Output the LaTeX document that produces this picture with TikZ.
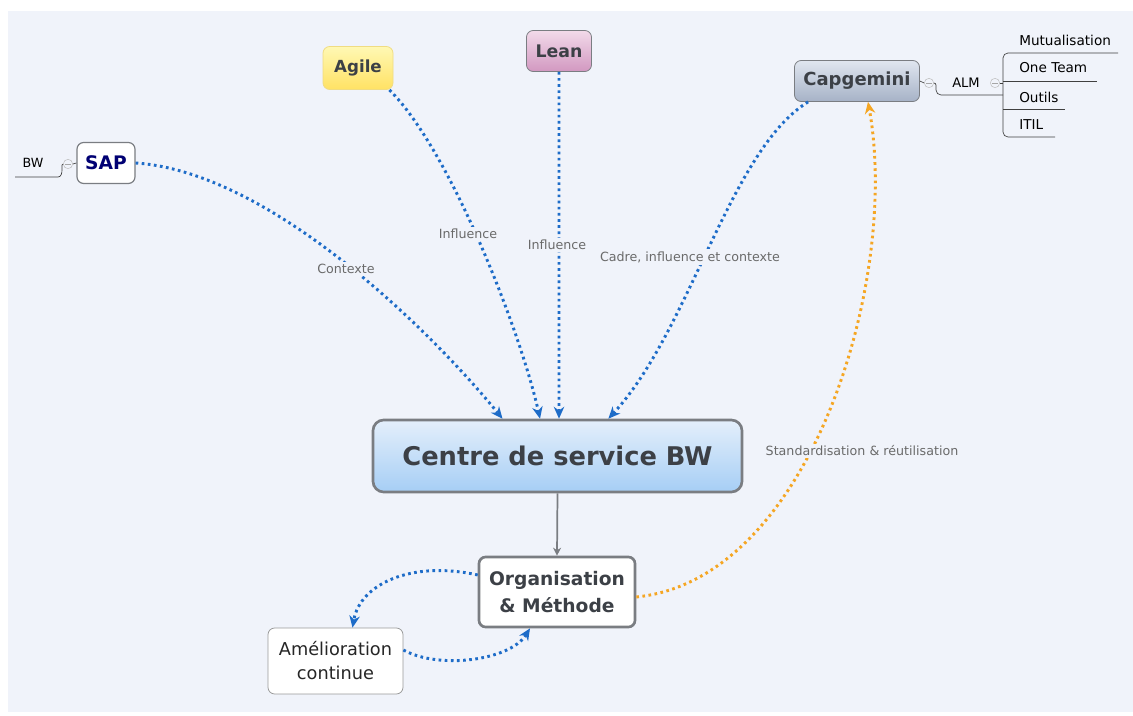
\documentclass[tikz,border=0pt]{standalone}
\usepackage{fontspec}
\setmainfont{DejaVu Sans}
\usetikzlibrary{arrows.meta,calc,shapes.geometric}
\definecolor{bgc}{HTML}{F0F3FA}
\definecolor{bluel}{HTML}{1E6CC8}
\definecolor{orl}{HTML}{F5A623}
\definecolor{bordg}{HTML}{7A7D82}
\definecolor{txtd}{HTML}{3C4046}
\definecolor{lblg}{HTML}{6A6A6A}
\tikzset{
  topic/.style={draw=bordg, line width=0.9pt, rounded corners=5pt, inner sep=0pt, font=\bfseries, text=txtd, align=center},
  lbl/.style={font=\fontsize{9.5}{11}\selectfont, text=lblg, inner sep=1.5pt},
  sub/.style={font=\fontsize{10.2}{12}\selectfont, text=black, anchor=west, inner sep=0pt},
  blink/.style={draw=bluel, line width=2.2pt, dash pattern=on 2pt off 2.6pt, -{Stealth[length=9pt,width=8pt,line width=0pt]}},
  olink/.style={draw=orl, line width=2.2pt, dash pattern=on 2pt off 2.6pt, -{Stealth[length=9pt,width=8pt,line width=0pt]}},
  tline/.style={draw=black!75, line width=0.5pt},
  coll/.style={circle, draw=black!25, fill=bgc, minimum size=7pt, inner sep=0pt},
}
\begin{document}
\begin{tikzpicture}[x=0.75pt,y=-0.75pt]
\useasboundingbox (0,0) rectangle (1133,716);
\fill[white] (0,0) rectangle (1133,716);
\fill[bgc] (8,11) rectangle (1133,712);

% nodes
\node[topic, fill=white, text=blue!45!black, minimum width=58*0.75pt, minimum height=41*0.75pt, font=\bfseries\fontsize{14}{16}\selectfont] (sap) at (106,163) {SAP};
\node[topic, top color={rgb,255:red,255;green,248;blue,180}, bottom color={rgb,255:red,255;green,226;blue,100}, draw={rgb,255:red,240;green,220;blue,130}, line width=0.6pt, minimum width=70*0.75pt, minimum height=43*0.75pt, font=\bfseries\fontsize{12.5}{15}\selectfont] (agile) at (358,68) {Agile};
\node[topic, top color={rgb,255:red,242;green,218;blue,234}, bottom color={rgb,255:red,210;green,152;blue,192}, line width=0.6pt, minimum width=65*0.75pt, minimum height=41*0.75pt, font=\bfseries\fontsize{13}{15}\selectfont] (lean) at (559,51) {Lean};
\node[topic, top color={rgb,255:red,224;green,230;blue,240}, bottom color={rgb,255:red,166;green,178;blue,198}, line width=0.6pt, minimum width=125*0.75pt, minimum height=41*0.75pt, font=\bfseries\fontsize{13.5}{15}\selectfont] (capg) at (857,81) {Capgemini};
\node[topic, top color={rgb,255:red,228;green,239;blue,251}, bottom color={rgb,255:red,166;green,206;blue,245}, line width=2pt, rounded corners=8pt, minimum width=369*0.75pt, minimum height=72*0.75pt, font=\bfseries\fontsize{19.3}{22}\selectfont] (centre) at (557.5,456) {Centre de service BW};
\node[topic, fill=white, line width=2pt, minimum width=156*0.75pt, minimum height=70*0.75pt, font=\bfseries\fontsize{14}{20}\selectfont] (org) at (557,592) {Organisation\\\& Méthode};
\node[topic, fill=white, draw=black!40, line width=0.6pt, minimum width=135*0.75pt, minimum height=66*0.75pt, font=\fontsize{13.3}{18}\selectfont, text=black!85] (amel) at (335.5,661) {Amélioration\\continue};

% BW branch
\node[font=\fontsize{9.5}{11}\selectfont, inner sep=0pt] (bw) at (33,163) {BW};
\node[coll] (c1) at (68,164) {};
\draw[black!35, line width=0.5pt] ($(c1.center)+(-3,0)$) -- ($(c1.center)+(3,0)$);
\draw[tline] (15,177) -- (58,177) to[out=0,in=270] (62,170) -- (62,167) to[out=90,in=180] (c1.west);
\draw[tline] (c1.east) -- (sap.west);

% ALM branch
\node[coll] (c2) at (929,83) {};
\draw[black!35, line width=0.5pt] ($(c2.center)+(-3,0)$) -- ($(c2.center)+(3,0)$);
\draw[tline] (capg.east) -- (c2.west);
\node[font=\fontsize{9.8}{11}\selectfont, inner sep=0pt] (alm) at (966,83) {ALM};
\draw[tline] (c2.east) to[out=0,in=90] (936,90) to[out=270,in=180] (941,95) -- (1003,95);
\node[coll] (c3) at (995,83) {};
\draw[black!35, line width=0.5pt] ($(c3.center)+(-3,0)$) -- ($(c3.center)+(3,0)$);
\draw[tline] (c3.east) -- (1003,83);
\draw[tline] (1118,53) -- (1008,53) to[out=180,in=90] (1003,58) -- (1003,132) to[out=270,in=180] (1008,137) -- (1055,137);
\draw[tline] (1003,81) -- (1097,81);
\draw[tline] (1003,109) -- (1065,109);
\node[sub] (mut) at (1019,40) {Mutualisation};
\node[sub] (one) at (1019,68) {One Team};
\node[sub] (out) at (1019,97) {Outils};
\node[sub] (itil) at (1019,125) {ITIL};

% relation connectors
\coordinate (t1) at ($(centre.north west)!0.352!(centre.north east)$);
\coordinate (t2) at ($(centre.north west)!0.453!(centre.north east)$);
\coordinate (t3) at ($(centre.north west)!0.504!(centre.north east)$);
\coordinate (t4) at ($(centre.north west)!0.637!(centre.north east)$);

\draw[blink] (sap.east) .. controls (270,172) and (430,330) .. (t1);
\draw[blink] ($(agile.south east)+(-4,0)$) .. controls (450,150) and (520,330) .. (t2);
\draw[blink] (lean.south) -- (t3);
\draw[blink] ($(capg.south west)+(14,0)$) .. controls (730,150) and (690,330) .. (t4);

\node[lbl, fill=bgc] (l1) at (346,269) {Contexte};
\node[lbl, fill=bgc] (l2) at (468,234) {Influence};
\node[lbl, fill=bgc] (l3) at (557,245) {Influence};
\node[lbl, fill=bgc] (l4) at (690,257) {Cadre, influence et contexte};

\draw[draw=bordg, line width=1.3pt, -{Stealth[length=6pt,width=6pt]}] (centre.south) -- (org.north);

\draw[blink] ($(org.west)+(0,-17)$) .. controls (410,560) and (360,585) .. ($(amel.north)+(17,0)$);
\draw[blink] ($(amel.east)+(0,-11)$) .. controls (440,670) and (510,660) .. ($(org.south)+(-27,0)$);

\draw[olink] ($(org.east)+(0,5)$) .. controls (810,580) and (900,280) .. ($(capg.south)+(11,0)$);
\node[lbl, fill=bgc] (l5) at (862,451) {Standardisation \& réutilisation};
\end{tikzpicture}
\end{document}
